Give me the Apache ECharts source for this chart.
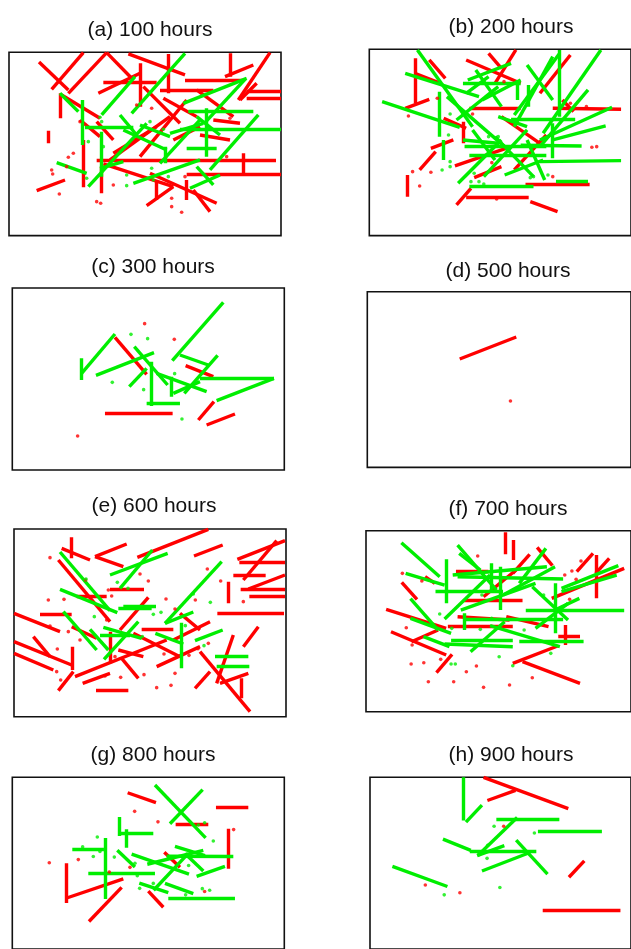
<!DOCTYPE html>
<html>
<head>
<meta charset="utf-8">
<script src="https://cdn.jsdelivr.net/npm/echarts@6/dist/echarts.min.js"></script>
<style>
  html, body { margin: 0; padding: 0; background: #fff; }
  #main { width: 631px; height: 949px; }
</style>
</head>
<body>
<div id="main"></div>
<script>
// segments are [x1, y1, x2, y2], dots are [x, y]; y grows downwards (inverse axis)
const titles = ['(a) 100 hours', '(b) 200 hours', '(c) 300 hours', '(d) 500 hours',
                '(e) 600 hours', '(f) 700 hours', '(g) 800 hours', '(h) 900 hours'];

// (a) 100 hours
const aRedLines = [
  [117,66,205,150],[155,148,250,38],[205,160,320,38],[320,38,395,115],[385,42,555,105],
  [505,42,505,160],[420,70,420,200],[690,40,690,110],[675,110,760,75],[715,180,810,38],
  [555,122,730,122],[310,128,470,128],[740,155,843,155],[740,175,843,175],[720,180,770,130],
  [182,160,182,235],[185,165,300,235],[145,272,145,310],[110,452,195,420],[250,300,250,442],
  [290,362,828,362],[560,402,843,402],[730,340,730,408],[440,497,520,440],[470,420,470,480],
  [560,420,560,480],[450,400,650,490],[580,450,630,515],[290,245,340,300],[295,160,420,100],
  [430,140,540,250],[330,360,510,230],[420,350,560,180],[480,150,640,150],[590,150,700,230],
  [640,240,720,250],[310,372,520,440],[340,340,470,260],[305,380,305,460],[600,285,690,300],
  [490,175,590,230],[240,240,300,290],[520,300,600,260]
];
const aGreenLines = [
  [180,160,235,215],[248,180,248,315],[255,262,400,262],[305,225,405,110],[395,220,555,40],
  [550,190,740,115],[565,215,760,215],[540,268,843,268],[265,440,440,250],[305,275,305,410],
  [170,368,260,400],[400,430,600,360],[570,445,660,405],[590,380,640,435],[630,390,775,225],
  [560,325,650,325],[620,205,620,350],[360,225,410,285],[370,270,500,330],[420,255,510,290],
  [495,320,495,370],[480,370,600,240],[590,230,660,285],[735,118,615,248],[510,280,610,250],
  [300,385,370,365]
];
const aRedDots = [
  [155,390],[158,402],[220,340],[205,352],[178,462],[290,485],[302,490],[340,435],[515,475],
  [515,500],[545,517],[555,410],[680,350],[690,235],[455,205],[410,195],[240,245],[200,380]
];
const aGreenDots = [
  [300,232],[305,245],[265,305],[310,320],[450,245],[490,268],[455,385],[505,410],[380,405],
  [380,437],[260,415],[460,420]
];

// (b) 200 hours
const bRedLines = [
  [170,55,170,190],[170,100,250,130],[215,60,265,115],[140,205,215,178],[330,60,500,130],
  [400,40,440,85],[420,130,485,30],[560,160,655,45],[630,180,665,215],[600,205,813,208],
  [340,205,500,205],[260,235,330,265],[220,325,290,300],[185,390,235,335],[145,405,145,470],
  [300,495,345,445],[330,472,525,472],[530,485,615,515],[515,432,715,432],[295,378,470,320],
  [355,413,440,380],[440,230,560,310],[480,390,580,285],[320,245,320,310]
];
const bGreenLines = [
  [178,30,350,260],[140,100,370,170],[68,185,310,262],[245,155,245,290],[258,300,258,360],
  [300,240,430,140],[360,90,440,200],[335,120,470,70],[380,180,500,120],[320,130,500,130],
  [400,110,330,160],[270,170,450,320],[350,270,420,360],[305,430,440,300],[385,410,520,270],
  [320,300,430,310],[325,320,580,320],[340,345,580,345],[340,440,540,440],[450,405,570,360],
  [470,238,670,238],[480,225,620,42],[480,260,600,50],[520,75,600,180],[620,30,620,230],
  [570,280,750,30],[560,320,710,150],[500,316,690,318],[560,365,813,362],[610,425,710,425],
  [560,300,785,202],[600,300,765,258],[430,230,520,260],[490,120,490,180],[525,135,525,200],
  [600,355,600,250],[420,290,540,410],[520,300,575,420]
];
const bRedDots = [
  [150,228],[163,395],[185,438],[220,397],[240,175],[350,222],[410,368],[425,477],[655,190],
  [705,200],[722,322],[737,320],[448,125],[600,410]
];
const bGreenDots = [
  [280,222],[275,285],[280,365],[280,380],[255,390],[345,425],[370,425],[385,432],[355,400],
  [530,413],[540,410],[585,405],[400,290],[430,290]
];

// (c) 300 hours
const cRedLines = [
  [345,172,440,283],[557,257,640,290],[315,400,518,400],[595,420,642,365],[620,435,705,402]
];
const cGreenLines = [
  [245,235,245,300],[245,280,345,162],[288,286,462,218],[403,200,503,315],[388,320,440,265],
  [453,245,453,378],[440,370,540,370],[517,242,670,67],[540,225,625,255],[653,226,553,340],
  [470,280,620,335],[515,290,515,350],[520,340,600,305],[600,295,822,295],[822,295,650,362]
];
const cRedDots = [[434,131],[523,178],[233,468]];
const cGreenDots = [[393,163],[443,176],[337,307],[431,329],[524,281],[546,417]];

// (d) 500 hours
const dRedLines = [[308,312,483,246]];
const dGreenLines = [];
const dRedDots = [[465,438]];
const dGreenDots = [];

// (e) 600 hours
const eRedLines = [
  [215,52,215,115],[185,85,270,120],[285,110,380,72],[285,110,370,140],[412,112,625,28],
  [582,108,668,75],[712,118,855,62],[718,126,855,126],[730,180,830,62],[700,165,797,165],
  [722,208,855,208],[745,207,855,165],[748,230,855,230],[685,185,685,250],[652,280,852,280],
  [175,120,330,305],[330,207,432,207],[230,230,320,230],[120,283,215,283],[42,280,180,335],
  [42,365,215,435],[42,400,160,450],[100,350,150,410],[218,380,218,450],[175,512,220,455],
  [225,470,500,360],[248,490,330,460],[288,512,385,512],[330,335,330,430],[365,415,415,475],
  [360,330,445,232],[425,327,520,327],[400,340,540,410],[470,440,600,380],[520,360,630,305],
  [540,280,600,330],[585,505,630,455],[600,395,750,575],[650,490,700,345],[660,490,745,460],
  [730,380,775,320],[725,475,725,535],[355,390,430,410],[215,320,290,355]
];
const eGreenLines = [
  [180,96,330,272],[330,165,503,100],[360,205,457,90],[180,208,352,278],[190,275,290,390],
  [270,328,325,390],[312,418,415,305],[310,322,425,355],[300,345,390,345],[355,265,455,265],
  [370,258,468,258],[495,310,665,125],[495,310,580,276],[543,308,543,445],[466,340,550,372],
  [585,362,668,330],[645,410,745,410],[650,440,748,440]
];
const eRedDots = [
  [150,113],[145,240],[192,238],[257,180],[325,210],[335,228],[420,162],[445,183],[498,237],
  [525,267],[622,147],[662,183],[730,245],[586,240],[150,318],[205,335],[240,360],[172,387],
  [170,455],[182,480],[345,410],[362,472],[432,464],[492,402],[525,460],[513,496],[470,503],
  [567,406],[594,386],[625,370],[315,468],[320,300]
];
const eGreenDots = [
  [258,177],[352,187],[384,205],[283,290],[460,283],[483,277],[556,317],[580,222],[631,247],
  [427,350],[612,377]
];

// (f) 700 hours
const fRedLines = [
  [447,37,447,103],[470,60,470,120],[545,82,592,137],[470,160,522,103],[667,155,717,100],
  [727,105,727,235],[725,160,767,115],[590,235,813,145],[128,187,175,238],[80,268,265,325],
  [95,335,265,405],[235,458,283,403],[158,365,240,330],[470,430,608,378],[500,425,677,490],
  [295,155,395,155],[200,170,230,190],[320,240,500,240],[270,320,470,320],[300,290,460,300],
  [450,290,580,320],[630,315,630,375],[610,348,677,348],[380,230,480,150]
];
const fGreenLines = [
  [127,68,245,170],[140,160,260,195],[232,213,440,213],[265,118,265,250],[300,75,420,210],
  [305,100,370,150],[260,297,400,165],[285,165,575,140],[300,170,625,177],[405,130,405,215],
  [430,140,430,270],[490,190,572,85],[440,225,600,140],[310,270,540,190],[320,280,320,330],
  [325,297,625,297],[155,236,240,330],[155,295,280,340],[195,350,275,380],[280,360,470,360],
  [260,372,470,380],[340,395,445,305],[400,317,615,380],[490,363,688,363],[510,272,813,272],
  [620,205,795,137],[620,215,790,165],[600,270,675,235],[540,325,640,250],[600,190,600,340],
  [530,200,640,300]
];
const fRedDots = [
  [130,160],[362,108],[190,183],[680,123],[652,153],[630,165],[665,178],[645,238],[142,323],
  [160,375],[157,432],[196,428],[248,418],[358,438],[327,455],[210,485],[288,485],[380,502],
  [460,495],[530,473]
];
const fGreenDots = [
  [245,282],[282,325],[370,328],[405,295],[505,330],[280,432],[293,432],[428,410],[470,437],
  [587,400],[565,225],[375,225]
];

// (g) 800 hours
const gRedLines = [
  [383,72,468,104],[648,118,745,118],[527,175,625,175],[686,188,686,318],[198,300,198,428],
  [198,413,370,350],[267,488,365,378],[445,390,490,442],[493,264,540,313]
];
const gGreenLines = [
  [465,47,617,218],[510,172,608,62],[357,150,357,212],[378,190,378,250],[355,202,460,202],
  [217,255,312,255],[315,218,315,415],[265,333,465,333],[352,258,405,312],[395,270,567,335],
  [442,303,610,258],[525,245,615,275],[500,277,700,278],[461,387,565,268],[555,268,610,325],
  [590,342,675,310],[418,364,505,395],[495,365,580,398],[505,413,705,413]
];
const gRedDots = [[404,132],[474,166],[701,191],[148,298],[235,288],[390,313],[328,328],[614,391]];
const gGreenDots = [
  [292,215],[248,247],[280,278],[300,262],[343,280],[412,340],[405,300],[419,381],[460,365],
  [557,402],[566,307],[607,382],[629,387],[640,228],[614,169],[595,176]
];

// (h) 900 hours
const hRedLines = [[385,22,650,123],[397,97,485,64],[652,345,700,292],[570,452,813,452]];
const hGreenLines = [
  [320,22,320,162],[330,167,380,112],[425,157,622,157],[555,195,755,195],[258,222,345,258],
  [342,262,550,262],[367,275,490,152],[365,275,450,243],[380,325,530,265],[487,225,585,335],
  [100,310,272,375]
];
const hRedDots = [[448,180],[203,370],[311,395]];
const hGreenDots = [[418,180],[544,202],[398,242],[396,284],[436,378],[262,402]];

const panelData = [
  [aRedLines, aGreenLines, aRedDots, aGreenDots],
  [bRedLines, bGreenLines, bRedDots, bGreenDots],
  [cRedLines, cGreenLines, cRedDots, cGreenDots],
  [dRedLines, dGreenLines, dRedDots, dGreenDots],
  [eRedLines, eGreenLines, eRedDots, eGreenDots],
  [fRedLines, fGreenLines, fRedDots, fGreenDots],
  [gRedLines, gGreenLines, gRedDots, gGreenDots],
  [hRedLines, hGreenLines, hRedDots, hGreenDots]
];

// layout: [left, top, width, height] of each box, axis window [xMin, yMin], title centre [x, y]
const boxes = [
  [9, 52.3, 272, 183.3], [369.3, 49.3, 272, 186.3],
  [12.3, 288, 272, 182], [367.3, 291.7, 272, 175.7],
  [14, 529, 272, 187.7], [366, 530.7, 272, 181],
  [12.3, 777.3, 272, 185], [370, 777.3, 272, 185]
];
const windows = [[27, 37], [28, 28], [37, 24], [22, 110], [42, 27], [18, 32], [37, 22], [30, 22]];
const titlePos = [[145, 27], [506, 24], [148, 264], [503, 268], [149, 503], [503, 506], [148, 752], [506, 752]];

const RED = '#ff0000';
const GREEN = '#00ee00';

const myChart = echarts.init(document.getElementById('main'), null, { renderer: 'canvas' });

const grid = [], xAxis = [], yAxis = [], title = [], series = [];

boxes.forEach(function (b, i) {
  grid.push({
    left: b[0], top: b[1], width: b[2], height: b[3],
    show: true, borderColor: '#111', borderWidth: 1.6, backgroundColor: '#fff'
  });
  xAxis.push({
    gridIndex: i, type: 'value', min: windows[i][0], max: windows[i][0] + b[2] * 3,
    show: false
  });
  yAxis.push({
    gridIndex: i, type: 'value', inverse: true, min: windows[i][1], max: windows[i][1] + b[3] * 3,
    show: false
  });
  title.push({
    text: titles[i], left: titlePos[i][0], top: titlePos[i][1] - 12, textAlign: 'center',
    textStyle: { fontFamily: 'Liberation Sans, Arial, sans-serif', fontSize: 21, fontWeight: 'normal', color: '#111' }
  });

  const d = panelData[i];
  [[d[0], RED], [d[1], GREEN]].forEach(function (p) {
    series.push({
      type: 'lines', coordinateSystem: 'cartesian2d', xAxisIndex: i, yAxisIndex: i,
      silent: true, clip: true,
      lineStyle: { color: p[1], width: 3.4, opacity: 1, cap: 'butt' },
      data: p[0].map(function (s) { return { coords: [[s[0], s[1]], [s[2], s[3]]] }; })
    });
  });
  [[d[2], RED], [d[3], GREEN]].forEach(function (p) {
    series.push({
      type: 'scatter', xAxisIndex: i, yAxisIndex: i, silent: true,
      symbol: 'circle', symbolSize: 3.6,
      itemStyle: { color: p[1] },
      data: p[0]
    });
  });
});

myChart.setOption({
  animation: false,
  backgroundColor: '#fff',
  title: title,
  grid: grid,
  xAxis: xAxis,
  yAxis: yAxis,
  series: series
});
</script>
</body>
</html>
